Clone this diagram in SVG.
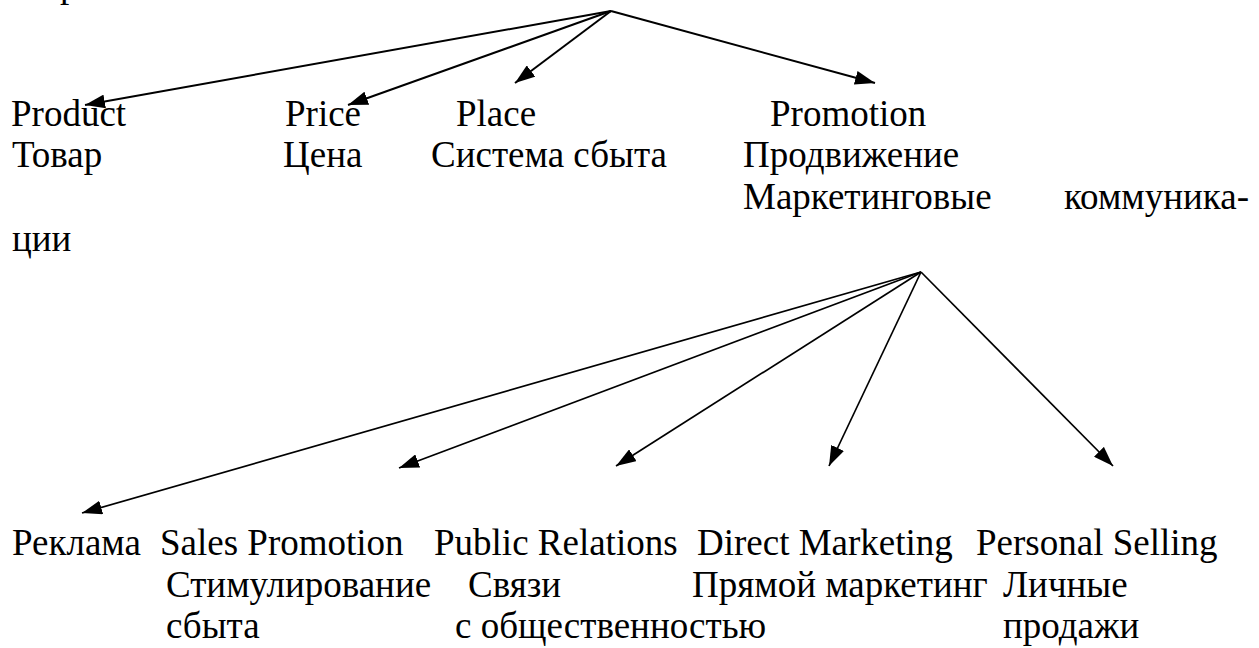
<svg xmlns="http://www.w3.org/2000/svg" width="1259" height="648" viewBox="0 0 1259 648">
<style>
text{font-family:"Liberation Serif","Times New Roman",serif;font-size:37px;fill:#000}
.c{stroke:#000;stroke-width:2;fill:none}
.c2{stroke:#000;stroke-width:1.7;fill:none}
</style>
<defs>
<marker id="ah" markerUnits="userSpaceOnUse" markerWidth="22" markerHeight="14" refX="20" refY="7" orient="auto">
<path d="M0,0 L20,7 L0,14 Z" fill="#000"/>
</marker>
</defs>
<rect width="1259" height="648" fill="#fff"/>
<text x="60" y="-3">р</text>
<g id="connectors">
<line class="c" x1="611" y1="11" x2="85" y2="105" marker-end="url(#ah)"/>
<line class="c" x1="611" y1="11" x2="348" y2="105" marker-end="url(#ah)"/>
<line class="c" x1="611" y1="11" x2="515" y2="83" marker-end="url(#ah)"/>
<line class="c" x1="611" y1="11" x2="875" y2="83" marker-end="url(#ah)"/>
<line class="c2" x1="921" y1="272" x2="82" y2="513" marker-end="url(#ah)"/>
<line class="c2" x1="921" y1="272" x2="399" y2="468" marker-end="url(#ah)"/>
<line class="c2" x1="921" y1="272" x2="616" y2="466" marker-end="url(#ah)"/>
<line class="c2" x1="921" y1="272" x2="829" y2="466" marker-end="url(#ah)"/>
<line class="c2" x1="921" y1="272" x2="1113" y2="466" marker-end="url(#ah)"/>
</g>
<g id="product"><text x="11" y="126">Product</text><text x="12" y="167">Товар</text></g>
<g id="price"><text x="285" y="126">Price</text><text x="283" y="167">Цена</text></g>
<g id="place"><text x="456" y="126">Place</text><text x="431" y="167">Система сбыта</text></g>
<g id="promotion"><text x="770" y="126">Promotion</text><text x="743" y="167">Продвижение</text><text x="743" y="209">Маркетинговые</text><text x="1249" y="209" text-anchor="end">коммуника-</text><text x="12" y="251">ции</text></g>
<g id="advertising"><text x="12" y="555">Реклама</text></g>
<g id="sales-promotion"><text x="160" y="555">Sales Promotion</text><text x="166" y="597">Стимулирование</text><text x="166" y="638">сбыта</text></g>
<g id="public-relations"><text x="434" y="555">Public Relations</text><text x="468" y="597">Связи</text><text x="455" y="638">с общественностью</text></g>
<g id="direct-marketing"><text x="697" y="555">Direct Marketing</text><text x="692" y="597">Прямой маркетинг</text></g>
<g id="personal-selling"><text x="976" y="555">Personal Selling</text><text x="1003" y="597">Личные</text><text x="1003" y="638">продажи</text></g>
</svg>
